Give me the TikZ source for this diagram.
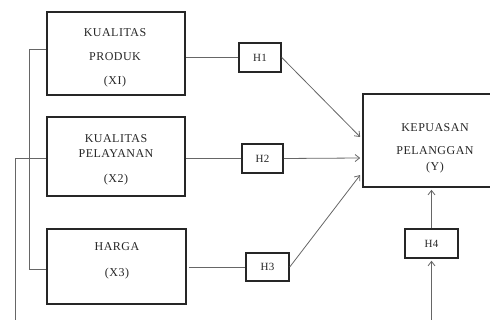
\documentclass[tikz,border=0pt]{standalone}
\usepackage{fontspec}
\setmainfont{Liberation Serif}
\newfontfamily\boxfont[LetterSpace=4]{Liberation Serif}
\usetikzlibrary{arrows.meta}
\tikzset{
  vbox/.style={draw=black!85, line width=1.6pt, minimum width=#1, inner sep=0pt},
  hbox/.style={draw=black!85, line width=1.5pt, inner sep=0pt, font=\boxfont\fontsize{11}{13}\selectfont, text=black!85},
  txt/.style={font=\boxfont\fontsize{12}{14}\selectfont, text=black!85, inner sep=0pt},
  conn/.style={draw=black!60, line width=0.8pt},
  arr/.style={conn, -{Straight Barb[length=4.5pt,width=7pt]}},
}
\begin{document}
\begin{tikzpicture}[x=1pt,y=-1pt]
\useasboundingbox (0,0) rectangle (490,320);
\clip (0,0) rectangle (490,320);
% variable boxes
\node[vbox=138pt, minimum height=83pt] (b1) at (116,53.5) {};
\node[vbox=138pt, minimum height=79pt] (b2) at (116,156.5) {};
\node[vbox=139pt, minimum height=75pt] (b3) at (116.5,266.5) {};
\node[vbox=134pt, minimum height=93pt] (Y) at (430,140.5) {};
% texts
\node[txt] (t11) at (115,33) {KUALITAS};
\node[txt] (t12) at (115,57) {PRODUK};
\node[txt] (t13) at (115,82) {(XI)};
\node[txt] (t21) at (116,139) {KUALITAS};
\node[txt] (t22) at (116,154) {PELAYANAN};
\node[txt] (t23) at (116,180) {(X2)};
\node[txt] (t31) at (117,247) {HARGA};
\node[txt] (t32) at (117,274) {(X3)};
\node[txt] (ty1) at (435,128) {KEPUASAN};
\node[txt] (ty2) at (435,151) {PELANGGAN};
\node[txt] (ty3) at (435,168) {(Y)};
% hypothesis boxes
\node[hbox, minimum width=42pt, minimum height=29pt] (h1) at (260,57.5) {H1};
\node[hbox, minimum width=41pt, minimum height=29pt] (h2) at (262.5,158.5) {H2};
\node[hbox, minimum width=43pt, minimum height=28pt] (h3) at (267.5,267) {H3};
\node[hbox, minimum width=53pt, minimum height=29pt] (h4) at (431.5,243.5) {H4};
% connectors box -> H
\draw[conn] (h1.west) -- (h1.west -| b1.east);
\draw[conn] (h2.west) -- (h2.west -| b2.east);
\draw[conn] ([xshift=2pt]b3.east |- h3.west) -- (h3.west);
% arrows H -> Y
\draw[arr] (h1.east) -- ([xshift=-2pt,yshift=3.5pt]Y.west);
\draw[arr] (h2.east) -- ([xshift=-2pt,yshift=-17.5pt]Y.west);
\draw[arr] (h3.east) -- ([xshift=-2pt,yshift=-34.5pt]Y.west);
\draw[arr] (h4.north) -- ([yshift=-2pt]h4.north |- Y.south);
\coordinate (bot) at (431.5,322);
\draw[arr] (bot) -- ([yshift=-2pt]h4.south);
% left bracket lines
\draw[conn] ([yshift=4.5pt]b1.west) -- ++(-17,0) |- ([yshift=-2.5pt]b3.west);
\coordinate (lbot) at (15,322);
\draw[conn] ([yshift=-1.5pt]b2.west) -| (lbot);
\end{tikzpicture}
\end{document}
